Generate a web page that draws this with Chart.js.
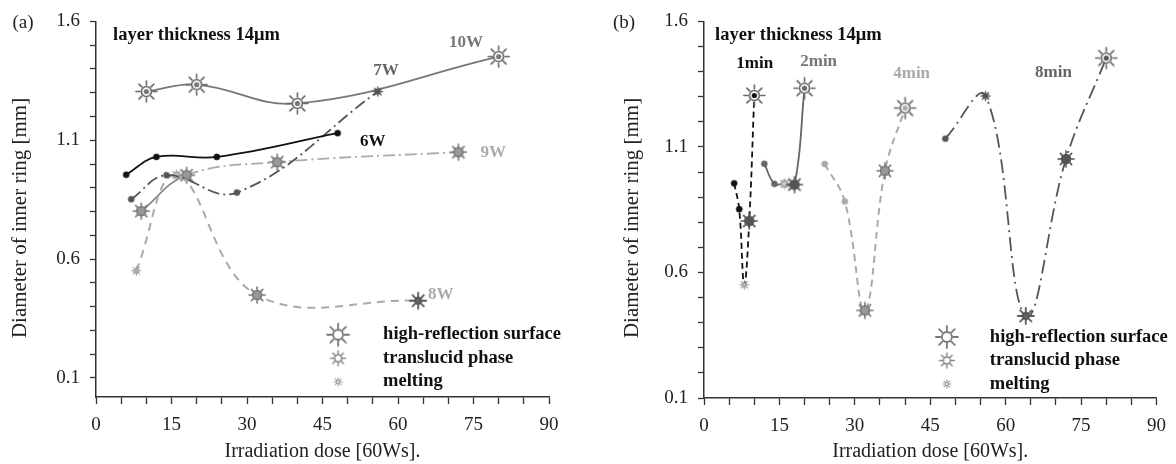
<!DOCTYPE html>
<html>
<head>
<meta charset="utf-8">
<script src="https://cdn.jsdelivr.net/npm/chart.js@4.4.0/dist/chart.umd.min.js"></script>
<style>
  html, body { margin: 0; padding: 0; background: #fff; }
  #wrap { position: relative; width: 1176px; height: 464px; overflow: hidden; }
  canvas { position: absolute; top: 0; }
  #chartA { left: 0; }
  #chartB { left: 600px; }
</style>
</head>
<body>
<div id="wrap">
  <canvas id="chartA" width="588" height="464"></canvas>
  <canvas id="chartB" width="576" height="464"></canvas>
</div>
<script>
// ---- axis ticks
const xTickVals = [0, 5, 10, 15, 20, 25, 30, 35, 40, 45, 50, 55, 60, 65, 70, 75, 80, 85, 90];
const xTickLabels = ['0', '15', '30', '45', '60', '75', '90'];
const yTickVals = [0.1, 0.2, 0.3, 0.4, 0.5, 0.6, 0.7, 0.8, 0.9, 1.0, 1.1, 1.2, 1.3, 1.4, 1.5, 1.6];
const yTickLabels = ['0.1', '0.6', '1.1', '1.6'];

// ---- panel (a): one curve per laser power
const dose6W = [6, 12, 24, 48];
const diam6W = [0.955, 1.03, 1.03, 1.13];
const phase6W = ['dot', 'dot', 'dot', 'dot'];

const dose7W = [7, 14, 28, 56];
const diam7W = [0.852, 0.953, 0.88, 1.305];
const phase7W = ['dot', 'dot', 'dot', 'meltD'];

const dose8W = [8, 16, 32, 64];
const diam8W = [0.551, 0.953, 0.449, 0.425];
const phase8W = ['melt', 'transS', 'trans', 'meltL'];

const dose9W = [9, 18, 36, 72];
const diam9W = [0.802, 0.953, 1.008, 1.05];
const phase9W = ['trans', 'trans', 'trans', 'trans'];

const dose10W = [10, 20, 40, 80];
const diam10W = [1.305, 1.334, 1.255, 1.452];
const phase10W = ['high', 'high', 'high', 'high'];

// ---- panel (b): one curve per exposure time
const dose1min = [6, 7, 8, 9, 10];
const diam1min = [0.955, 0.852, 0.551, 0.805, 1.305];
const phase1min = ['dot', 'dot', 'melt', 'transD', 'high'];

const dose2min = [12, 14, 16, 18, 20];
const diam2min = [1.033, 0.953, 0.953, 0.95, 1.334];
const phase2min = ['dot', 'dot', 'transS', 'transD', 'high'];

const dose4min = [24, 28, 32, 36, 40];
const diam4min = [1.032, 0.883, 0.449, 1.005, 1.255];
const phase4min = ['dot', 'dot', 'trans', 'trans', 'high'];

const dose8min = [48, 56, 64, 72, 80];
const diam8min = [1.133, 1.303, 0.427, 1.052, 1.454];
const phase8min = ['dot', 'meltD', 'meltL', 'transD', 'high'];

const legendLabels = ['high-reflection surface', 'translucid phase', 'melting'];

const SERIF = '"Liberation Serif", "Times New Roman", serif';

// sun shaped markers drawn on small canvases
function sun({ r, ri, rc, ray, ring, fill, dot, dotR, lw }) {
  const size = Math.ceil(2 * Math.max(r, rc) + 4);
  const c = document.createElement('canvas');
  c.width = size; c.height = size;
  const g = c.getContext('2d');
  const m = size / 2;
  g.lineWidth = lw;
  g.strokeStyle = ray;
  g.lineCap = 'round';
  if (r > 0) {
    for (let k = 0; k < 8; k++) {
      const a = k * Math.PI / 4;
      g.beginPath();
      g.moveTo(m + Math.cos(a) * ri, m + Math.sin(a) * ri);
      g.lineTo(m + Math.cos(a) * r, m + Math.sin(a) * r);
      g.stroke();
    }
  }
  if (rc > 0) {
    g.beginPath();
    g.arc(m, m, rc, 0, Math.PI * 2);
    g.fillStyle = fill;
    g.fill();
    g.strokeStyle = ring;
    g.stroke();
  }
  if (dot) {
    g.beginPath();
    g.arc(m, m, dotR, 0, Math.PI * 2);
    g.fillStyle = dot;
    g.fill();
  }
  return c;
}

function marker(kind, color) {
  switch (kind) {
    case 'dot': return sun({ r: 0, ri: 0, rc: 3, ray: color, ring: color, fill: color, lw: 0.8 });
    case 'melt': return sun({ r: 4.5, ri: 0.5, rc: 2, ray: '#999', ring: '#999', fill: '#bbb', lw: 1.2 });
    case 'meltD': return sun({ r: 4.5, ri: 0.5, rc: 2.2, ray: '#555', ring: '#555', fill: '#555', lw: 1.4 });
    case 'meltL': return sun({ r: 8, ri: 1, rc: 3, ray: '#555', ring: '#555', fill: '#666', lw: 1.8 });
    case 'transS': return sun({ r: 5, ri: 3, rc: 3, ray: '#999', ring: '#999', fill: '#ccc', lw: 1.3 });
    case 'trans': return sun({ r: 8, ri: 4.5, rc: 4.5, ray: '#777', ring: '#777', fill: '#999', lw: 1.6 });
    case 'transD': return sun({ r: 8, ri: 4.5, rc: 4.5, ray: '#555', ring: '#555', fill: '#555', lw: 1.6 });
    case 'high': return sun({ r: 10.5, ri: 6.5, rc: 5, ray: '#666', ring: '#666', fill: '#fff', dot: color, dotR: 2.6, lw: 1.6 });
  }
}

const legendIcons = [
  sun({ r: 11, ri: 6.5, rc: 5, ray: '#777', ring: '#777', fill: '#fff', lw: 1.8 }),
  sun({ r: 7.5, ri: 4, rc: 3.5, ray: '#888', ring: '#888', fill: '#fff', lw: 1.5 }),
  sun({ r: 4, ri: 1.5, rc: 1.6, ray: '#999', ring: '#999', fill: '#fff', lw: 1.1 })
];

function series(label, xs, ys, phases, color, dash, width, extra) {
  return Object.assign({
    label,
    data: xs.map((x, i) => ({ x, y: ys[i] })),
    showLine: true,
    borderColor: color,
    borderWidth: width,
    borderDash: dash,
    tension: 0.4,
    fill: false,
    pointStyle: phases.map(p => marker(p, color)),
    pointRadius: 4,
    pointHoverRadius: 4
  }, extra || {});
}

function textLayer(cfg) {
  return {
    id: 'textLayer',
    afterDraw(chart) {
      const { ctx, scales: { x, y } } = chart;
      ctx.save();
      ctx.textBaseline = 'middle';
      ctx.fillStyle = '#222';
      ctx.textAlign = 'center';
      ctx.font = '19px ' + SERIF;
      ctx.fillText(cfg.tag, cfg.tagPos[0], cfg.tagPos[1]);

      ctx.save();
      ctx.translate(cfg.yTitlePos[0], cfg.yTitlePos[1]);
      ctx.rotate(-Math.PI / 2);
      ctx.font = '21px ' + SERIF;
      ctx.fillText('Diameter of inner ring [mm]', 0, 0);
      ctx.restore();

      cfg.notes.forEach(n => {
        ctx.font = 'bold ' + (n.size || 17) + 'px ' + SERIF;
        ctx.fillStyle = n.color;
        ctx.textAlign = n.align || 'center';
        ctx.fillText(n.text, x.getPixelForValue(n.x), y.getPixelForValue(n.y));
      });

      const lx = x.getPixelForValue(cfg.legend.x);
      const ly = y.getPixelForValue(cfg.legend.y);
      ctx.font = 'bold 18.5px ' + SERIF;
      ctx.fillStyle = '#111';
      ctx.textAlign = 'left';
      legendLabels.forEach((t, i) => {
        const img = legendIcons[i];
        const yy = ly + i * 23.5;
        ctx.drawImage(img, lx - img.width / 2, yy - img.height / 2);
        ctx.fillText(t, lx + cfg.legend.gap, yy);
      });
      ctx.restore();
    }
  };
}

function options(yMin, yWidth, xHeight, padRight) {
  const tickFont = { family: SERIF, size: 19 };
  return {
    responsive: false,
    animation: false,
    events: [],
    layout: { padding: { top: 21, right: padRight, bottom: 0, left: 0 } },
    plugins: { legend: { display: false }, tooltip: { enabled: false } },
    scales: {
      x: {
        type: 'linear', min: 0, max: 90,
        afterBuildTicks: s => { s.ticks = xTickVals.map(v => ({ value: v })); },
        afterFit: s => { s.height = xHeight; },
        ticks: {
          autoSkip: false, maxRotation: 0, padding: 10, color: '#222', font: tickFont,
          callback: v => xTickLabels.includes(String(v)) ? String(v) : ''
        },
        grid: { drawOnChartArea: false, drawTicks: true, tickLength: 7, color: '#333', tickWidth: 1.3 },
        border: { color: '#333', width: 1.5 },
        title: {
          display: true, text: 'Irradiation dose [60Ws].', color: '#222',
          font: { family: SERIF, size: 20 }, padding: { top: 0, bottom: 0 }
        }
      },
      y: {
        type: 'linear', min: yMin, max: 1.6,
        afterBuildTicks: s => { s.ticks = yTickVals.map(v => ({ value: v })); },
        afterFit: s => { s.width = yWidth; },
        ticks: {
          autoSkip: false, padding: 10, color: '#222', font: tickFont,
          callback: v => yTickLabels.includes(v.toFixed(1)) ? v.toFixed(1) : ''
        },
        grid: { drawOnChartArea: false, drawTicks: true, tickLength: 6, color: '#333', tickWidth: 1.3 },
        border: { color: '#333', width: 1.5 }
      }
    }
  };
}

new Chart(document.getElementById('chartA'), {
  type: 'scatter',
  data: {
    datasets: [
      series('6W', dose6W, diam6W, phase6W, '#111', [], 1.8),
      series('7W', dose7W, diam7W, phase7W, '#555', [12, 4, 2, 4], 1.8),
      series('8W', dose8W, diam8W, phase8W, '#aaa', [8, 6], 2),
      series('9W', dose9W, diam9W, phase9W, '#aaa', [12, 4, 2, 4], 1.8, {
        segment: {
          borderDash: c => c.p0DataIndex === 0 ? [] : [12, 4, 2, 4],
          borderColor: c => c.p0DataIndex === 0 ? '#888' : '#aaa'
        }
      }),
      series('10W', dose10W, diam10W, phase10W, '#777', [], 1.8)
    ]
  },
  options: options(0.02, 96, 67, 39),
  plugins: [textLayer({
    tag: '(a)', tagPos: [23, 23], yTitlePos: [20, 218],
    notes: [
      { text: 'layer thickness 14\u03bcm', x: 3.4, y: 1.54, color: '#111', align: 'left', size: 18.5 },
      { text: '10W', x: 73.5, y: 1.511, color: '#777' },
      { text: '7W', x: 57.6, y: 1.393, color: '#666' },
      { text: '6W', x: 55.0, y: 1.095, color: '#111' },
      { text: '9W', x: 78.9, y: 1.049, color: '#aaa' },
      { text: '8W', x: 68.5, y: 0.449, color: '#aaa' }
    ],
    legend: { x: 48.1, y: 0.282, gap: 45 }
  })]
});

new Chart(document.getElementById('chartB'), {
  type: 'scatter',
  data: {
    datasets: [
      series('1min', dose1min, diam1min, phase1min, '#111', [6, 4], 1.8),
      series('2min', dose2min, diam2min, phase2min, '#666', [], 1.8),
      series('4min', dose4min, diam4min, phase4min, '#aaa', [7, 5], 2),
      series('8min', dose8min, diam8min, phase8min, '#555', [14, 5, 2, 5], 1.8)
    ]
  },
  options: options(0.1, 104, 66, 19),
  plugins: [textLayer({
    tag: '(b)', tagPos: [24, 23], yTitlePos: [32, 218],
    notes: [
      { text: 'layer thickness 14\u03bcm', x: 2.2, y: 1.544, color: '#111', align: 'left', size: 18.5 },
      { text: '1min', x: 10.1, y: 1.432, color: '#111' },
      { text: '2min', x: 22.8, y: 1.44, color: '#777' },
      { text: '4min', x: 41.3, y: 1.393, color: '#aaa' },
      { text: '8min', x: 69.5, y: 1.397, color: '#666' }
    ],
    legend: { x: 48.3, y: 0.343, gap: 43 }
  })]
});
</script>
</body>
</html>
